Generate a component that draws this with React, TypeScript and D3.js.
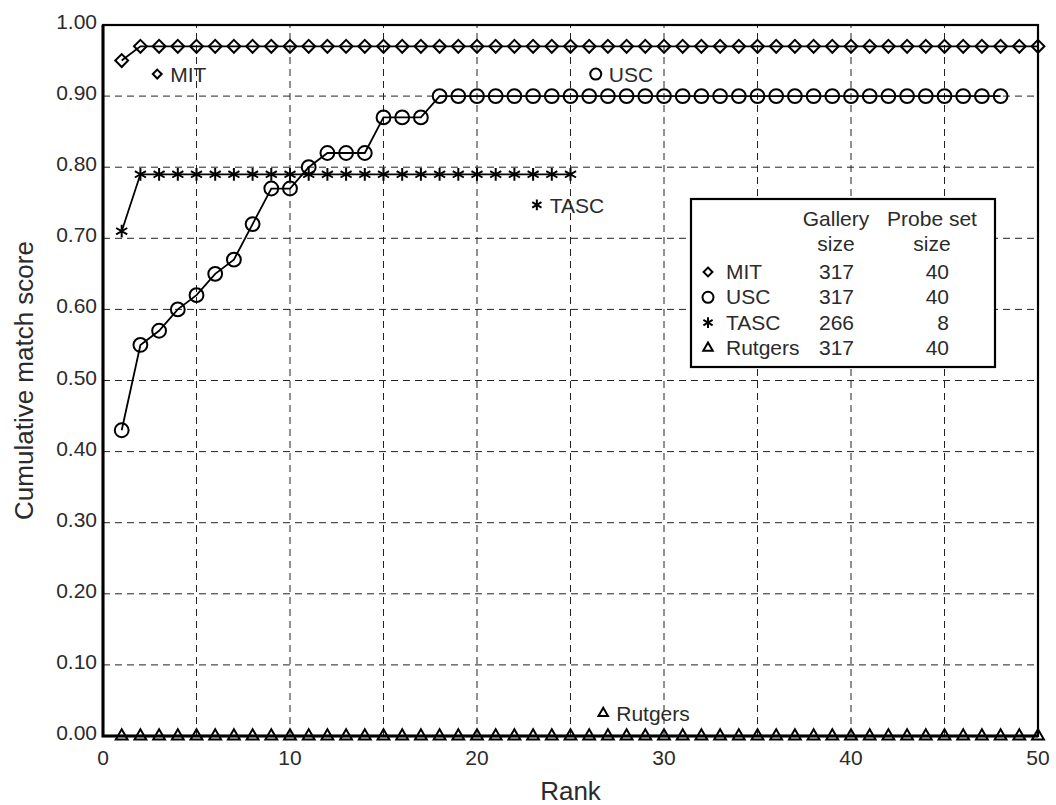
import { useEffect, useRef } from 'react';
import * as d3 from 'd3';

// cumulative match scores per rank (rank = index + 1)
const mitScores = [
  0.95, 0.97, 0.97, 0.97, 0.97, 0.97, 0.97, 0.97, 0.97, 0.97,
  0.97, 0.97, 0.97, 0.97, 0.97, 0.97, 0.97, 0.97, 0.97, 0.97,
  0.97, 0.97, 0.97, 0.97, 0.97, 0.97, 0.97, 0.97, 0.97, 0.97,
  0.97, 0.97, 0.97, 0.97, 0.97, 0.97, 0.97, 0.97, 0.97, 0.97,
  0.97, 0.97, 0.97, 0.97, 0.97, 0.97, 0.97, 0.97, 0.97, 0.97,
];
const uscScores = [
  0.43, 0.55, 0.57, 0.60, 0.62, 0.65, 0.67, 0.72, 0.77, 0.77,
  0.80, 0.82, 0.82, 0.82, 0.87, 0.87, 0.87, 0.90, 0.90, 0.90,
  0.90, 0.90, 0.90, 0.90, 0.90, 0.90, 0.90, 0.90, 0.90, 0.90,
  0.90, 0.90, 0.90, 0.90, 0.90, 0.90, 0.90, 0.90, 0.90, 0.90,
  0.90, 0.90, 0.90, 0.90, 0.90, 0.90, 0.90, 0.90,
];
const tascScores = [
  0.71, 0.79, 0.79, 0.79, 0.79, 0.79, 0.79, 0.79, 0.79, 0.79,
  0.79, 0.79, 0.79, 0.79, 0.79, 0.79, 0.79, 0.79, 0.79, 0.79,
  0.79, 0.79, 0.79, 0.79, 0.79,
];
const rutgersScores = [
  0, 0, 0, 0, 0, 0, 0, 0, 0, 0,
  0, 0, 0, 0, 0, 0, 0, 0, 0, 0,
  0, 0, 0, 0, 0, 0, 0, 0, 0, 0,
  0, 0, 0, 0, 0, 0, 0, 0, 0, 0,
  0, 0, 0, 0, 0, 0, 0, 0, 0, 0,
];

const seriesNames = ['MIT', 'USC', 'TASC', 'Rutgers'];
const gallerySizes = [317, 317, 266, 317];
const probeSizes = [40, 40, 8, 40];

// in-plot labels (rank, score)
const labelRanks = [2.9, 26.35, 23.2, 26.75];
const labelScores = [0.931, 0.931, 0.747, 0.032];

const yTicks = [0, 0.1, 0.2, 0.3, 0.4, 0.5, 0.6, 0.7, 0.8, 0.9, 1.0];
const xTicks = [0, 10, 20, 30, 40, 50];
const xGrid = [5, 10, 15, 20, 25, 30, 35, 40, 45];

const FONT = '"Liberation Sans", Arial, Helvetica, sans-serif';
const TEXT = '#2b2b2b';

const App = () => {
  const ref = useRef<SVGSVGElement | null>(null);

  useEffect(() => {
    if (!ref.current) return;
    const svg = d3.select(ref.current);
    svg.selectAll('*').remove();

    const x = d3.scaleLinear().domain([0, 50]).range([103, 1038]);
    const y = d3.scaleLinear().domain([0, 1]).range([736, 25]);

    const markerTypes = [d3.symbolDiamond2, d3.symbolCircle, d3.symbolAsterisk, d3.symbolTriangle2];
    const markerSizes = [105, 150, 115, 100];
    const smallSizes = [50, 95, 80, 64];
    const allScores = [mitScores, uscScores, tascScores, rutgersScores];

    // grid
    const grid = svg.append('g').attr('stroke', '#222').attr('stroke-width', 1).attr('stroke-dasharray', '7,5');
    grid.selectAll('line.h')
      .data(yTicks.slice(1, -1))
      .enter().append('line')
      .attr('x1', x(0)).attr('x2', x(50))
      .attr('y1', d => y(d)).attr('y2', d => y(d));
    grid.selectAll('line.v')
      .data(xGrid)
      .enter().append('line')
      .attr('class', 'v')
      .attr('y1', y(0)).attr('y2', y(1))
      .attr('x1', d => x(d)).attr('x2', d => x(d));

    // frame
    svg.append('rect')
      .attr('x', x(0)).attr('y', y(1))
      .attr('width', x(50) - x(0)).attr('height', y(0) - y(1))
      .attr('fill', 'none').attr('stroke', '#000').attr('stroke-width', 2.2);
    svg.append('path')
      .attr('d', `M${x(0)},${y(1)}V${y(0)}H${x(50)}`)
      .attr('fill', 'none').attr('stroke', '#000').attr('stroke-width', 3);

    // tick labels
    svg.append('g').selectAll('text')
      .data(yTicks)
      .enter().append('text')
      .attr('x', x(0) - 6)
      .attr('y', d => y(d) + 4)
      .attr('text-anchor', 'end')
      .style('font-family', FONT).style('font-size', '21px').attr('fill', TEXT)
      .text(d => d3.format('.2f')(d));
    svg.append('g').selectAll('text')
      .data(xTicks)
      .enter().append('text')
      .attr('x', d => x(d))
      .attr('y', y(0) + 29)
      .attr('text-anchor', 'middle')
      .style('font-family', FONT).style('font-size', '21px').attr('fill', TEXT)
      .text(d => d);

    // axis titles
    svg.append('text')
      .attr('x', (x(0) + x(50)) / 2)
      .attr('y', 800)
      .attr('text-anchor', 'middle')
      .style('font-family', FONT).style('font-size', '26px').attr('fill', TEXT)
      .text('Rank');
    svg.append('text')
      .attr('transform', `translate(33, ${(y(0) + y(1)) / 2}) rotate(-90)`)
      .attr('text-anchor', 'middle')
      .style('font-family', FONT).style('font-size', '26px').attr('fill', TEXT)
      .text('Cumulative match score');

    // series
    const line = d3.line<number>()
      .x((_, i) => x(i + 1))
      .y(d => y(d));
    allScores.forEach((scores, s) => {
      svg.append('path')
        .datum(scores)
        .attr('d', line)
        .attr('fill', 'none')
        .attr('stroke', '#000')
        .attr('stroke-width', 1.8);
      svg.append('g').selectAll('path')
        .data(scores)
        .enter().append('path')
        .attr('transform', (d, i) => `translate(${x(i + 1)}, ${y(d)})`)
        .attr('d', d3.symbol().type(markerTypes[s]).size(markerSizes[s])())
        .attr('fill', 'none')
        .attr('stroke', '#000')
        .attr('stroke-width', 2);
    });

    // in-plot labels
    seriesNames.forEach((name, s) => {
      const cx = x(labelRanks[s]);
      const cy = y(labelScores[s]);
      svg.append('path')
        .attr('transform', `translate(${cx}, ${cy})`)
        .attr('d', d3.symbol().type(markerTypes[s]).size(smallSizes[s])())
        .attr('fill', 'none').attr('stroke', '#000').attr('stroke-width', 2);
      svg.append('text')
        .attr('x', cx + 13)
        .attr('y', cy + 8)
        .style('font-family', FONT).style('font-size', '21px').attr('fill', TEXT)
        .text(name);
    });

    // legend
    const legend = svg.append('g').attr('transform', 'translate(691, 199)');
    legend.append('rect')
      .attr('width', 304).attr('height', 168)
      .attr('fill', '#fff').attr('stroke', '#000').attr('stroke-width', 2.2);
    const headText = (tx: number, ty: number, t: string) =>
      legend.append('text')
        .attr('x', tx).attr('y', ty)
        .attr('text-anchor', 'middle')
        .style('font-family', FONT).style('font-size', '21px').attr('fill', TEXT)
        .text(t);
    headText(145, 27, 'Gallery');
    headText(241, 27, 'Probe set');
    headText(145, 52, 'size');
    headText(241, 52, 'size');
    seriesNames.forEach((name, s) => {
      const by = 80 + s * 25.3;
      legend.append('path')
        .attr('transform', `translate(17, ${by - 7})`)
        .attr('d', d3.symbol().type(markerTypes[s]).size(smallSizes[s])())
        .attr('fill', 'none').attr('stroke', '#000').attr('stroke-width', 2);
      legend.append('text')
        .attr('x', 35).attr('y', by)
        .style('font-family', FONT).style('font-size', '21px').attr('fill', TEXT)
        .text(name);
      legend.append('text')
        .attr('x', 128).attr('y', by)
        .style('font-family', FONT).style('font-size', '21px').attr('fill', TEXT)
        .text(gallerySizes[s]);
      legend.append('text')
        .attr('x', 258).attr('y', by)
        .attr('text-anchor', 'end')
        .style('font-family', FONT).style('font-size', '21px').attr('fill', TEXT)
        .text(probeSizes[s]);
    });
  }, []);

  return (
    <svg
      ref={ref}
      width={1056}
      height={805}
      style={{ position: 'absolute', left: 0, top: 0, background: '#fff' }}
    />
  );
};

export default App;
